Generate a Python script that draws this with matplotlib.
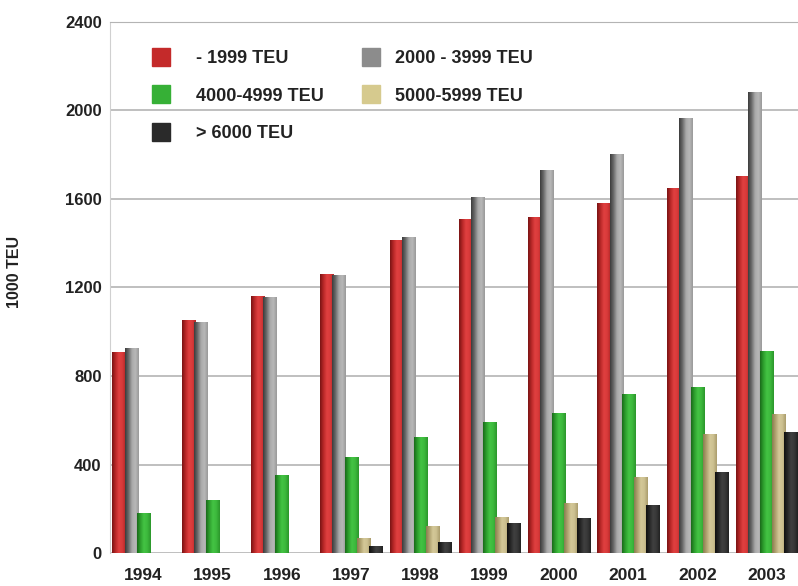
import matplotlib.pyplot as plt
import numpy as np
from matplotlib.colors import LinearSegmentedColormap
from matplotlib.lines import Line2D

plt.rcParams['font.family'] = ['Liberation Sans', 'DejaVu Sans']

years = ['1994', '1995', '1996', '1997', '1998', '1999', '2000', '2001', '2002', '2003']
series = ['- 1999 TEU', '2000 - 3999 TEU', '4000-4999 TEU', '5000-5999 TEU', '> 6000 TEU']

teu_small = [910, 1055, 1160, 1260, 1415, 1510, 1520, 1580, 1650, 1705]
teu_mid = [925, 1045, 1155, 1258, 1430, 1610, 1730, 1805, 1965, 2085]
teu_4000 = [180, 240, 352, 433, 523, 591, 631, 720, 750, 915]
teu_5000 = [0, 0, 0, 68, 120, 162, 225, 343, 540, 630]
teu_6000 = [0, 0, 0, 30, 50, 135, 158, 217, 365, 545]

values = [teu_small, teu_mid, teu_4000, teu_5000, teu_6000]

# dark edge -> highlight -> slightly darker right edge, per series
shades = [
    ['#7a1414', '#b82828', '#e04040', '#d83a3a', '#b02626'],
    ['#3c3c3c', '#6a6a6a', '#a8a8a8', '#b8b8b8', '#9a9a9a'],
    ['#1a6a1a', '#2ea02e', '#44c444', '#3cb83c', '#2c962c'],
    ['#8a7c50', '#b0a270', '#d4c898', '#ccc090', '#aa9c6c'],
    ['#101010', '#262626', '#404040', '#383838', '#222222'],
]
legend_colors = ['#c42a2a', '#8c8c8c', '#36b036', '#d6ca8e', '#2a2a2a']

fig = plt.figure(figsize=(7.98, 5.86), dpi=100)
ax = fig.add_axes([0.1378, 0.0563, 1 - 0.1378, 0.9062])

x = np.arange(len(years))
step = 0.175
width = 0.19
grad = np.linspace(0, 1, 64).reshape(1, -1)

for i, (vals, cols) in enumerate(zip(values, shades)):
    cmap = LinearSegmentedColormap.from_list('s%d' % i, cols)
    pos = x + (i - 2) * step
    bars = ax.bar(pos, vals, width=width, color=cols[2], linewidth=0, zorder=3 + i)
    for rect in bars:
        h = rect.get_height()
        if h <= 0:
            continue
        x0 = rect.get_x()
        im = ax.imshow(grad, extent=[x0, x0 + width, 0, h], aspect='auto',
                       cmap=cmap, zorder=3 + i + 0.5, interpolation='bilinear')
        im.set_clip_path(rect)

ax.set_xlim(-0.48, 9.45)
ax.set_ylim(0, 2400)
ax.set_yticks([0, 400, 800, 1200, 1600, 2000, 2400])
ax.set_xticks(x)
ax.set_xticklabels(years)
ax.grid(axis='y', color='#b4b4b4', linewidth=1.2, zorder=0)
ax.set_axisbelow(True)
for side in ['right', 'bottom']:
    ax.spines[side].set_visible(False)
ax.spines['top'].set_color('#b4b4b4')
ax.spines['left'].set_color('#d0d0d0')
ax.tick_params(length=0, labelsize=12, colors='#222222', pad=6)
for lab in ax.get_xticklabels() + ax.get_yticklabels():
    lab.set_fontweight('bold')
ax.tick_params(axis='x', pad=11, labelsize=12.5)

ax.set_ylabel('1000 TEU', fontsize=11.5, fontweight='bold', color='#222222',
              labelpad=18)
ax.yaxis.set_label_coords(-0.128, 0.53)


def square(k):
    return Line2D([], [], marker='s', linestyle='', markersize=12.5,
                  markerfacecolor=legend_colors[k], markeredgecolor=legend_colors[k])


# two legend columns with their own text gaps
cols = [([0, 2, 4], 0.025, 0.9), ([1, 3], 0.33, 0.3)]
for idx, (keys, x_anchor, pad) in enumerate(cols):
    leg = ax.legend([square(k) for k in keys], [series[k] for k in keys],
                    frameon=False, loc='upper left',
                    bbox_to_anchor=(x_anchor, 0.978), labelspacing=1.15,
                    handletextpad=pad, prop={'size': 13, 'weight': 'bold'})
    for t in leg.get_texts():
        t.set_color('#222222')
    if idx == 0:
        ax.add_artist(leg)

fig.savefig('out.png', dpi=100)
